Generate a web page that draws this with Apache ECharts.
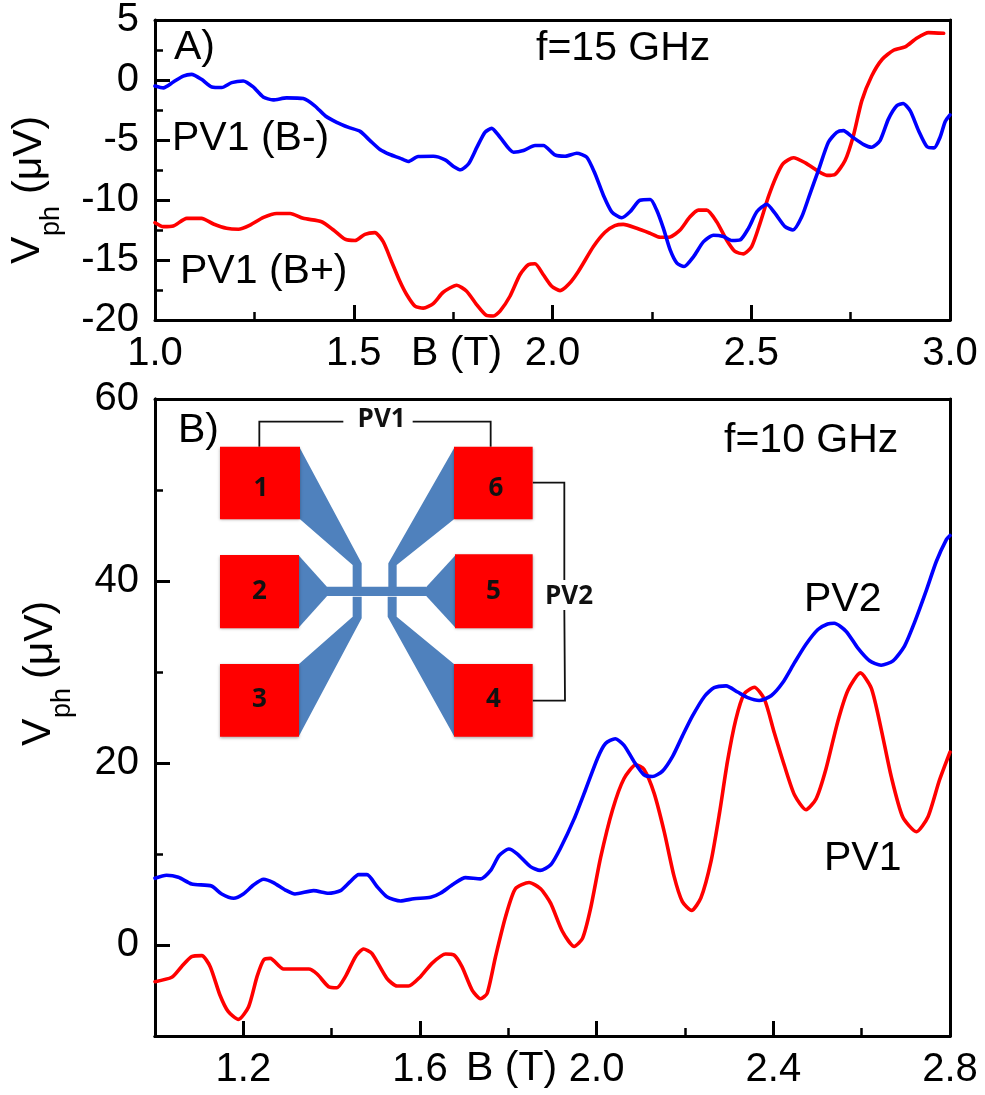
<!DOCTYPE html>
<html>
<head>
<meta charset="utf-8">
<style>html,body{margin:0;padding:0;background:#fff}#c{width:985px;height:1095px}</style>
<script src="https://cdn.jsdelivr.net/npm/echarts@6/dist/echarts.min.js"></script>
</head>
<body>
<div id="c"></div>
<script>
// Panel A, f = 15 GHz
const aBlueB = [1.0,1.021,1.046,1.071,1.092,1.117,1.143,1.168,1.193,1.222,1.247,1.272,1.297,1.331,1.373,1.402,1.428,1.457,1.487,1.516,1.541,1.566,1.591,1.616,1.637,1.662,1.7,1.73,1.751,1.769,1.789,1.81,1.83,1.847,1.868,1.902,1.927,1.956,1.977,2.006,2.032,2.061,2.086,2.107,2.128,2.149,2.174,2.195,2.22,2.246,2.262,2.279,2.296,2.313,2.331,2.355,2.38,2.405,2.43,2.451,2.472,2.493,2.514,2.539,2.56,2.585,2.605,2.627,2.648,2.669,2.694,2.715,2.732,2.753,2.783,2.803,2.824,2.845,2.866,2.882,2.9,2.921,2.942,2.96,2.975,2.988,3.0];
const aBlueV = [-0.5,-0.66,-0.17,0.33,0.47,0.06,-0.58,-0.63,-0.22,-0.08,-0.58,-1.41,-1.66,-1.49,-1.55,-2.15,-2.98,-3.53,-3.95,-4.28,-5.05,-5.79,-6.21,-6.51,-6.79,-6.37,-6.35,-6.65,-7.2,-7.48,-6.98,-5.6,-4.36,-4.03,-4.77,-6.02,-5.88,-5.46,-5.46,-6.24,-6.35,-6.1,-6.43,-7.81,-9.6,-10.98,-11.48,-10.98,-10.02,-9.96,-10.84,-12.36,-14.16,-15.26,-15.54,-14.71,-13.47,-12.94,-13.05,-13.38,-13.33,-12.36,-10.98,-10.35,-11.12,-12.22,-12.5,-11.4,-9.46,-7.53,-5.19,-4.36,-4.22,-4.72,-5.38,-5.6,-5.05,-3.26,-2.15,-1.96,-2.57,-4.22,-5.55,-5.66,-4.77,-3.45,-2.9];
const aRedB = [1.0,1.021,1.046,1.08,1.117,1.147,1.18,1.21,1.239,1.273,1.306,1.34,1.373,1.419,1.449,1.478,1.503,1.528,1.553,1.574,1.595,1.616,1.633,1.654,1.675,1.7,1.725,1.759,1.784,1.809,1.834,1.851,1.868,1.893,1.918,1.939,1.956,1.977,1.998,2.019,2.04,2.065,2.103,2.132,2.157,2.178,2.212,2.246,2.271,2.296,2.321,2.346,2.367,2.388,2.413,2.438,2.459,2.48,2.501,2.522,2.543,2.564,2.581,2.606,2.636,2.665,2.69,2.711,2.736,2.757,2.778,2.803,2.829,2.858,2.887,2.917,2.946,2.984];
const aRedV = [-11.89,-12.22,-12.17,-11.53,-11.53,-12.0,-12.36,-12.44,-12.09,-11.45,-11.12,-11.12,-11.53,-11.81,-12.5,-13.27,-13.38,-12.86,-12.72,-13.47,-15.12,-16.78,-17.88,-18.85,-19.01,-18.63,-17.69,-17.11,-17.6,-18.71,-19.62,-19.67,-19.26,-18.02,-16.23,-15.4,-15.31,-16.23,-17.19,-17.55,-17.05,-15.95,-13.88,-12.69,-12.14,-12.03,-12.36,-12.78,-13.11,-13.08,-12.5,-11.4,-10.84,-10.84,-11.81,-13.33,-14.29,-14.49,-13.88,-11.95,-9.74,-7.95,-6.93,-6.48,-6.9,-7.53,-7.95,-7.86,-6.71,-4.64,-1.74,0.33,1.71,2.48,2.76,3.5,3.95,3.89];
// Panel B, f = 10 GHz
const bBlueB = [1.0,1.026,1.053,1.083,1.128,1.151,1.178,1.2,1.223,1.246,1.268,1.295,1.317,1.359,1.393,1.42,1.442,1.461,1.48,1.503,1.525,1.556,1.586,1.624,1.646,1.676,1.703,1.737,1.76,1.779,1.801,1.82,1.85,1.872,1.896,1.918,1.949,1.975,2.002,2.02,2.042,2.062,2.085,2.107,2.126,2.149,2.172,2.194,2.217,2.244,2.266,2.293,2.319,2.342,2.368,2.395,2.421,2.448,2.474,2.501,2.523,2.538,2.565,2.591,2.618,2.644,2.671,2.697,2.72,2.746,2.769,2.792,2.8];
const bBlueV = [7.33,7.66,7.44,6.7,6.48,5.6,5.13,5.6,6.59,7.22,6.85,6.04,5.6,5.97,5.68,5.97,6.96,7.73,7.73,6.41,5.31,4.84,5.09,5.24,5.68,6.7,7.4,7.27,8.2,9.82,10.55,10.02,8.61,8.2,8.81,10.63,13.86,17.09,20.53,22.14,22.67,21.94,20.12,18.71,18.51,19.11,20.73,22.95,25.17,27.31,28.28,28.48,27.8,27.19,26.87,27.39,28.81,31.03,33.05,34.67,35.27,35.35,34.46,32.65,31.23,30.75,31.23,32.85,35.48,38.91,42.14,44.57,45.0];
const bRedB = [1.0,1.038,1.06,1.083,1.106,1.125,1.147,1.166,1.189,1.212,1.231,1.246,1.261,1.291,1.348,1.367,1.393,1.412,1.431,1.454,1.472,1.491,1.525,1.548,1.574,1.601,1.627,1.658,1.677,1.695,1.718,1.737,1.752,1.771,1.794,1.816,1.847,1.873,1.896,1.922,1.949,1.968,1.986,2.009,2.036,2.062,2.089,2.107,2.13,2.153,2.175,2.194,2.215,2.236,2.259,2.278,2.296,2.315,2.334,2.357,2.38,2.402,2.425,2.448,2.474,2.497,2.519,2.546,2.569,2.597,2.622,2.644,2.667,2.693,2.724,2.75,2.776,2.8];
const bRedV = [-4.03,-3.55,-2.38,-1.28,-1.17,-2.38,-5.49,-7.33,-8.17,-6.78,-3.48,-1.65,-1.47,-2.64,-2.64,-3.19,-4.58,-4.69,-3.48,-1.28,-0.44,-0.92,-3.66,-4.51,-4.51,-3.48,-2.01,-0.99,-1.1,-2.38,-4.95,-5.9,-5.33,-1.29,3.15,6.18,6.87,6.18,4.57,1.54,-0.16,0.73,3.96,9.62,14.87,18.3,19.8,19.31,16.69,12.44,7.6,4.77,3.8,5.17,9.21,14.46,20.12,24.77,27.6,28.32,26.99,23.35,19.72,16.48,14.87,16.08,19.31,24.57,28.0,29.9,28.2,23.76,18.5,14.06,12.44,14.06,18.1,21.2];
// Tick labels
const bXLabels = [1.2,1.6,2.0,2.4,2.8];
const bXMinor = [1.4,1.8,2.2,2.6];
const bYLabels = [0,20,40,60];
const bYMinor = [10,30,50];

const zip = (xs, ys) => xs.map((x, i) => [x, ys[i]]);
const FONT = '"Liberation Sans", Arial, sans-serif';
const BLACK = '#000';
const lineAxis = { show:true, onZero:false, lineStyle:{color:BLACK, width:3} };
const labelStyle = { color:BLACK, fontFamily:FONT, fontSize:40 };

const chart = echarts.init(document.getElementById('c'), null, {renderer:'canvas'});

const line = (name, data, color, xi, yi) => ({
  name, type:'line', data, xAxisIndex:xi, yAxisIndex:yi, showSymbol:false, smooth:0.22,
  lineStyle:{color, width:3.6, join:'round', cap:'round'}, itemStyle:{color}, clip:false, animation:false
});

// Schematic inset: coordinates measured on the picture, in 3x crop units
const p = (X, Y) => [130 + X/3, 390 + Y/3];
const poly = pts => ({ type:'polygon', z:5, shape:{points:pts.map(a => p(a[0], a[1]))}, style:{fill:'#4f81bd'} });
const pad = (X0, Y0, X1, Y1) => {
  const a = p(X0, Y0), b = p(X1, Y1);
  return { type:'rect', z:6, shape:{x:a[0], y:a[1], width:b[0]-a[0], height:b[1]-a[1]},
    style:{fill:'#ff0000', shadowBlur:3, shadowColor:'rgba(0,0,0,0.35)', shadowOffsetY:1} };
};
const wire = pts => ({ type:'polyline', z:5, shape:{points:pts.map(a => p(a[0], a[1]))},
  style:{stroke:'#111', lineWidth:1.8, fill:null} });
const padText = (txt, X, Y) => {
  const a = p(X, Y);
  return { type:'text', z:7, x:a[0], y:a[1], style:{text:txt, font:'bold 26px "Open Sans", sans-serif', fill:'#111', align:'center', verticalAlign:'middle'} };
};
const label = (txt, x, y, extra) => ({ type:'text', z:8, x, y,
  style:Object.assign({text:txt, fontFamily:FONT, fontSize:41, fill:BLACK, align:'left', verticalAlign:'middle'}, extra||{}) });
const vLabel = (txt, x, y, size) => ({ type:'text', z:8, x, y, rotation:Math.PI/2,
  style:{text:txt, fontFamily:FONT, fontSize:size, fill:BLACK, align:'left', verticalAlign:'middle'} });

const graphic = [
  poly([[510,175],[695,520],[695,600],[668,600],[668,525],[510,388]]),
  poly([[972,175],[775,520],[775,600],[800,600],[800,525],[972,388]]),
  poly([[507,822],[668,680],[668,620],[695,620],[695,685],[507,1038]]),
  poly([[972,822],[800,680],[800,620],[773,620],[773,680],[972,1038]]),
  poly([[507,497],[592,592],[592,617],[507,712]]),
  poly([[975,497],[888,592],[888,617],[975,712]]),
  poly([[590,590],[888,590],[888,618],[590,618]]),
  pad(270,170,510,388), pad(270,495,507,715), pad(270,822,507,1040),
  pad(972,170,1208,388), pad(975,493,1208,715), pad(972,822,1208,1040),
  wire([[388,170],[388,95],[640,95]]), wire([[848,95],[1082,95],[1082,170]]),
  wire([[1208,278],[1303,278],[1303,570]]), wire([[1303,660],[1305,932],[1208,932]]),
  padText('1',393,296), padText('2',388,604), padText('3',388,930),
  padText('6',1098,296), padText('5',1090,604), padText('4',1090,930),
  padText('PV1',755,88), padText('PV2',1317,620),
  label('A)',174,48), label('B)',178,431),
  label('f=15 GHz',536,49), label('f=10 GHz',724,441),
  label('PV1 (B-)',172,139), label('PV1 (B+)',180,272),
  label('B (T)',411,354), label('B (T)',466,1069),
  label('PV2',804,600), label('PV1',824,859),
  vLabel('V',28,264,41), vLabel('ph',52,236,27), vLabel('(μV)',30,194,41),
  vLabel('V',39,746,41), vLabel('ph',63,718,27), vLabel('(μV)',41,679,41)
];

const option = {
  animation:false,
  backgroundColor:'#fff',
  textStyle:{fontFamily:FONT},
  grid:[
    {left:155, top:18, width:795, height:302, containLabel:false},
    {left:155, top:399, width:795, height:637, containLabel:false}
  ],
  xAxis:[
    // Panel A
    {gridIndex:0, type:'value', position:'bottom', min:1, max:3, interval:0.5, axisLine:lineAxis,
     axisTick:{inside:true, length:15, lineStyle:{color:BLACK, width:3}},
     minorTick:{show:true, splitNumber:2, length:8, lineStyle:{color:BLACK, width:2.5}},
     axisLabel:Object.assign({margin:14, formatter:v => v.toFixed(1), showMinLabel:true, showMaxLabel:true}, labelStyle),
     splitLine:{show:false}},
    {gridIndex:0, type:'value', position:'top', min:1, max:3, interval:0.5, axisLine:lineAxis,
     axisTick:{show:false}, axisLabel:{show:false}, splitLine:{show:false}},
    // Panel B
    {gridIndex:1, type:'value', position:'bottom', min:1, max:2.8, interval:0.2, axisLine:lineAxis,
     axisTick:{inside:true, length:15, customValues:bXLabels, lineStyle:{color:BLACK, width:3}},
     axisLabel:Object.assign({margin:14, customValues:bXLabels, formatter:v => v.toFixed(1)}, labelStyle),
     splitLine:{show:false}},
    {gridIndex:1, type:'value', position:'bottom', min:1, max:2.8, interval:0.2, axisLine:lineAxis,
     axisTick:{inside:true, length:8, customValues:bXMinor, lineStyle:{color:BLACK, width:2.5}},
     axisLabel:{show:false}, splitLine:{show:false}},
    {gridIndex:1, type:'value', position:'top', min:1, max:2.8, interval:0.2, axisLine:lineAxis,
     axisTick:{show:false}, axisLabel:{show:false}, splitLine:{show:false}}
  ],
  yAxis:[
    // Panel A
    {gridIndex:0, type:'value', position:'left', min:-20, max:5, interval:5, axisLine:lineAxis,
     axisTick:{inside:true, length:15, lineStyle:{color:BLACK, width:3}},
     minorTick:{show:true, splitNumber:2, length:8, lineStyle:{color:BLACK, width:2.5}},
     axisLabel:Object.assign({margin:16, showMinLabel:true, showMaxLabel:true}, labelStyle),
     splitLine:{show:false}},
    {gridIndex:0, type:'value', position:'right', min:-20, max:5, interval:2.5, axisLine:lineAxis,
     axisTick:{inside:false, length:2, lineStyle:{color:BLACK, width:2}}, axisLabel:{show:false}, splitLine:{show:false}},
    // Panel B
    {gridIndex:1, type:'value', position:'left', min:-10, max:60, interval:10, axisLine:lineAxis,
     axisTick:{inside:true, length:15, customValues:bYLabels, lineStyle:{color:BLACK, width:3}},
     axisLabel:Object.assign({margin:16, customValues:bYLabels}, labelStyle),
     splitLine:{show:false}},
    {gridIndex:1, type:'value', position:'left', min:-10, max:60, interval:10, axisLine:lineAxis,
     axisTick:{inside:true, length:8, customValues:bYMinor, lineStyle:{color:BLACK, width:2.5}},
     axisLabel:{show:false}, splitLine:{show:false}},
    {gridIndex:1, type:'value', position:'right', min:-10, max:60, interval:10, axisLine:lineAxis,
     axisTick:{inside:false, length:2, lineStyle:{color:BLACK, width:2}}, axisLabel:{show:false}, splitLine:{show:false}}
  ],
  series:[
    line('PV1 (B+)', zip(aRedB, aRedV), '#ff0000', 0, 0),
    line('PV1 (B-)', zip(aBlueB, aBlueV), '#0000ff', 0, 0),
    line('PV1', zip(bRedB, bRedV), '#ff0000', 2, 2),
    line('PV2', zip(bBlueB, bBlueV), '#0000ff', 2, 2)
  ],
  graphic:{elements:graphic}
};
chart.setOption(option);
</script>
</body>
</html>
